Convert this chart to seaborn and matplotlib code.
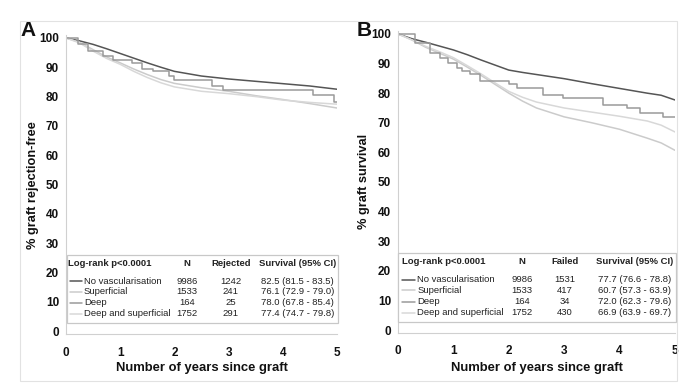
import numpy as np
import pandas as pd
import matplotlib
matplotlib.use("Agg")
import matplotlib.pyplot as plt
import seaborn as sns
from matplotlib.patches import Rectangle
from matplotlib.lines import Line2D

sns.set_theme(style="white")
plt.rcParams['font.family'] = ['Liberation Sans', 'DejaVu Sans']

# ---------------- data ----------------
groups = ["No vascularisation", "Superficial", "Deep", "Deep and superficial"]
colors = ["#555555", "#cbcbcb", "#9a9a9a", "#d8d8d8"]

t_smooth_a = [0, 0.25, 0.5, 0.75, 1.0, 1.25, 1.5, 1.75, 2.0, 2.5, 3.0, 3.5, 4.0, 4.5, 5.0]
a_none = [100, 99.0, 97.8, 96.3, 94.7, 93.1, 91.5, 90.0, 88.6, 87.0, 86.0, 85.2, 84.4, 83.6, 82.5]
a_sup = [100, 98.5, 96.0, 93.5, 91.5, 89.4, 87.5, 85.8, 84.5, 83.0, 81.8, 80.3, 79.0, 77.6, 76.1]
a_ds = [100, 98.3, 95.5, 93.0, 91.0, 88.6, 86.5, 84.7, 83.3, 81.8, 81.0, 80.0, 78.8, 78.0, 77.4]
t_deep_a = [0, 0.22, 0.4, 0.68, 0.87, 1.22, 1.4, 1.6, 1.9, 2.0, 2.69, 2.9, 4.55, 4.95, 5.0]
a_deep = [100, 98.0, 95.5, 94.0, 92.6, 91.5, 89.5, 88.6, 86.9, 85.8, 83.5, 82.3, 80.6, 78.0, 78.0]

t_smooth_b = [0, 0.25, 0.5, 0.75, 1.0, 1.25, 1.5, 1.75, 2.0, 2.25, 2.5, 3.0, 3.5, 4.0, 4.5, 4.75, 5.0]
b_none = [100, 98.4, 97.2, 95.9, 94.6, 93.0, 91.2, 89.5, 87.8, 87.0, 86.3, 84.9, 83.2, 81.6, 80.0, 79.3, 77.7]
b_sup = [100, 98.0, 95.5, 93.5, 91.5, 88.8, 86.0, 83.0, 80.0, 77.3, 75.0, 72.0, 70.0, 67.8, 64.8, 63.2, 60.7]
b_ds = [100, 98.0, 95.8, 94.0, 92.0, 89.3, 86.5, 83.5, 80.6, 78.6, 77.0, 75.0, 73.6, 72.2, 70.6, 69.2, 66.9]
t_deep_b = [0, 0.3, 0.58, 0.75, 0.9, 1.07, 1.15, 1.3, 1.48, 2.0, 2.14, 2.62, 2.98, 3.7, 4.13, 4.37, 4.78, 5.0]
b_deep = [100, 97.0, 93.5, 92.0, 90.3, 88.5, 87.5, 86.5, 84.1, 83.0, 81.8, 79.5, 78.4, 76.1, 74.9, 73.4, 72.0, 72.0]

n_vals = ["9986", "1533", "164", "1752"]
rejected = ["1242", "241", "25", "291"]
surv_a = ["82.5 (81.5 - 83.5)", "76.1 (72.9 - 79.0)", "78.0 (67.8 - 85.4)", "77.4 (74.7 - 79.8)"]
failed = ["1531", "417", "34", "430"]
surv_b = ["77.7 (76.6 - 78.8)", "60.7 (57.3 - 63.9)", "72.0 (62.3 - 79.6)", "66.9 (63.9 - 69.7)"]

x_ticks = [0, 1, 2, 3, 4, 5]
y_ticks = [0, 10, 20, 30, 40, 50, 60, 70, 80, 90, 100]

# ---------------- figure ----------------
W, H = 687, 391
fig = plt.figure(figsize=(W / 100, H / 100), dpi=100)

def fx(px):
    return px / W

def fy(py):
    return 1 - py / H

# outer light frame
fig.patches.append(Rectangle((fx(20), fy(381)), fx(677) - fx(20), fy(21) - fy(381),
                             transform=fig.transFigure, fill=False,
                             edgecolor="#e2e2e2", lw=0.8))

ax_a = fig.add_axes([fx(66), fy(334), fx(337) - fx(66), fy(35) - fy(334)])
ax_b = fig.add_axes([fx(398), fy(333), fx(675) - fx(398), fy(31) - fy(333)])

def draw(ax, ts, tdeep, none, sup, ds, deep):
    series = [(ts, none, colors[0], "default"),
              (ts, sup, colors[1], "default"),
              (ts, ds, colors[3], "default"),
              (tdeep, deep, colors[2], "steps-post")]
    for t, v, c, dsty in series:
        df = pd.DataFrame({"t": t, "v": v})
        sns.lineplot(data=df, x="t", y="v", ax=ax, color=c, lw=1.1,
                     estimator=None, sort=False, drawstyle=dsty)
    ax.set_xlim(0, 5)
    ax.set_ylim(-1, 101)
    ax.set_xticks(x_ticks)
    ax.set_yticks(y_ticks)
    ax.set_xticklabels([str(v) for v in x_ticks], fontweight="bold", fontsize=8.5, color="#111111")
    ax.set_yticklabels([str(v) for v in y_ticks], fontweight="bold", fontsize=8.5, color="#111111")
    for s in ["top", "right"]:
        ax.spines[s].set_visible(False)
    for s in ["left", "bottom"]:
        ax.spines[s].set_color("#d0d0d0")
        ax.spines[s].set_linewidth(0.8)
    ax.tick_params(axis="x", length=3, width=0.6, color="#d0d0d0", pad=6, direction="out")
    ax.tick_params(axis="y", length=0, pad=5)
    ax.set_xlabel("")
    ax.set_ylabel("")
    ax.set_facecolor("white")
    ax.grid(False)

draw(ax_a, t_smooth_a, t_deep_a, a_none, a_sup, a_ds, a_deep)
draw(ax_b, t_smooth_b, t_deep_b, b_none, b_sup, b_ds, b_deep)

# axis labels and panel letters
fig.text(fx(201.7), fy(368), "Number of years since graft", ha="center", va="center",
         fontsize=9.4, fontweight="bold", color="#111111")
fig.text(fx(536.7), fy(368), "Number of years since graft", ha="center", va="center",
         fontsize=9.4, fontweight="bold", color="#111111")
fig.text(fx(33), fy(185), "% graft rejection-free", ha="center", va="center", rotation=90,
         fontsize=9.2, fontweight="bold", color="#111111")
fig.text(fx(364), fy(181), "% graft survival", ha="center", va="center", rotation=90,
         fontsize=9.2, fontweight="bold", color="#111111")
fig.text(fx(28), fy(31), "A", ha="center", va="center", fontsize=15, fontweight="bold", color="#111111")
fig.text(fx(364), fy(30), "B", ha="center", va="center", fontsize=15, fontweight="bold", color="#111111")

# legend tables
def table(box, header_y, rows_y, x_head, line_x, x_lab, x_n, x_ev, x_s, ev_title, evs, survs):
    x0, y0, x1, y1 = box
    fig.patches.append(Rectangle((fx(x0), fy(y1)), fx(x1) - fx(x0), fy(y0) - fy(y1),
                                 transform=fig.transFigure, facecolor="white",
                                 edgecolor="#c8c8c8", lw=0.9, zorder=5))
    fs = 6.8
    kw = dict(va="center", fontsize=fs, color="#222222", zorder=6)
    fig.text(fx(x_head), fy(header_y), "Log-rank p<0.0001", ha="left", fontweight="bold", **kw)
    fig.text(fx(x_n), fy(header_y), "N", ha="center", fontweight="bold", **kw)
    fig.text(fx(x_ev), fy(header_y), ev_title, ha="center", fontweight="bold", **kw)
    fig.text(fx(x_s), fy(header_y), "Survival (95% CI)", ha="center", fontweight="bold", **kw)
    for i, g in enumerate(groups):
        y = rows_y[i]
        fig.add_artist(Line2D([fx(line_x[0]), fx(line_x[1])], [fy(y), fy(y)],
                              color=colors[i], lw=1.1, zorder=6))
        fig.text(fx(x_lab), fy(y), g, ha="left", **kw)
        fig.text(fx(x_n), fy(y), n_vals[i], ha="center", **kw)
        fig.text(fx(x_ev), fy(y), evs[i], ha="center", **kw)
        fig.text(fx(x_s), fy(y), survs[i], ha="center", **kw)

table((67, 255, 338, 323), 263.3, [281, 291.7, 302.7, 313.7], 68.5, (70, 82), 84,
      186.7, 230.7, 297.7, "Rejected", rejected, surv_a)
table((398, 253, 676, 321.7), 261.7, [280, 290.3, 301.7, 312.7], 401.7, (401.7, 415), 417.3,
      521.7, 565, 635, "Failed", failed, surv_b)

fig.savefig("out.png", dpi=100, facecolor="white")
